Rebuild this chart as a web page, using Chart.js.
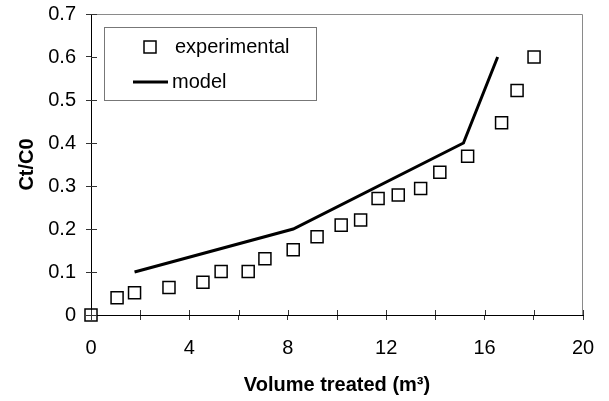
<!DOCTYPE html>
<html>
<head>
<meta charset="utf-8">
<script src="https://cdn.jsdelivr.net/npm/chart.js@4/dist/chart.umd.min.js"></script>
<style>
  html, body { margin: 0; padding: 0; background: #fff; }
  #wrap { width: 609px; height: 401px; }
</style>
</head>
<body>
<div id="wrap"><canvas id="myChart" width="609" height="401"></canvas></div>
<script>
// values
const expX = [0, 1.06, 1.77, 3.17, 4.55, 5.29, 6.39, 7.07, 8.22, 9.19, 10.17, 10.96, 11.67, 12.49, 13.4, 14.18, 15.31, 16.69, 17.32, 18.01];
const expY = [0, 0.040, 0.052, 0.064, 0.076, 0.101, 0.101, 0.131, 0.152, 0.182, 0.209, 0.221, 0.271, 0.279, 0.294, 0.332, 0.369, 0.447, 0.522, 0.600];
const modelX = [1.77, 8.22, 15.14, 16.53];
const modelY = [0.1, 0.2, 0.4, 0.6];
const xTicks = [0, 4, 8, 12, 16, 20];
const yTicks = ['0', '0.1', '0.2', '0.3', '0.4', '0.5', '0.6', '0.7'];

const FONT = 'Liberation Sans, Arial, sans-serif';

// frame on top/right, ticks that cross the axes, and the boxed legend
const extras = {
    id: 'extras',
    afterDraw(chart) {
        const ctx = chart.ctx;
        const a = chart.chartArea;
        const xs = chart.scales.x, ys = chart.scales.y;
        ctx.save();
        ctx.strokeStyle = '#8a8a8a';
        ctx.lineWidth = 1;
        ctx.beginPath();
        ctx.moveTo(a.left, a.top + 0.5);
        ctx.lineTo(a.right - 0.5, a.top + 0.5);
        ctx.lineTo(a.right - 0.5, a.bottom);
        ctx.stroke();

        ctx.strokeStyle = '#333';
        ctx.beginPath();
        xs.ticks.forEach(t => {
            const px = Math.round(xs.getPixelForValue(t.value)) + 0.5;
            ctx.moveTo(px, a.bottom);
            ctx.lineTo(px, a.bottom - 5);
        });
        ys.ticks.forEach(t => {
            const py = Math.round(ys.getPixelForValue(t.value)) + 0.5;
            ctx.moveTo(a.left, py);
            ctx.lineTo(a.left + 6, py);
        });
        ctx.stroke();

        // legend
        const lx = a.left + 13, ly = a.top + 13;
        ctx.strokeStyle = '#777';
        ctx.strokeRect(lx + 0.5, ly + 0.5, 212, 73);
        ctx.fillStyle = '#000';
        ctx.font = '20px ' + FONT;
        ctx.textBaseline = 'middle';
        ctx.textAlign = 'left';
        const ds = chart.data.datasets;
        ctx.strokeStyle = '#000';
        ctx.lineWidth = 1.5;
        ctx.strokeRect(lx + 40, ly + 14, 12, 12);
        ctx.fillText(ds[0].label, lx + 71, ly + 20);
        ctx.lineWidth = 3;
        ctx.beginPath();
        ctx.moveTo(lx + 29, ly + 55);
        ctx.lineTo(lx + 64, ly + 55);
        ctx.stroke();
        ctx.fillText(ds[1].label, lx + 68, ly + 55);
        ctx.restore();
    }
};

const ctx = document.getElementById('myChart').getContext('2d');
const myChart = new Chart(ctx, {
    type: 'scatter',
    data: {
        datasets: [{
            label: 'experimental',
            data: expX.map((x, i) => ({ x: x, y: expY[i] })),
            pointStyle: 'rect',
            pointRadius: 8.5,
            pointBorderWidth: 1.5,
            pointBorderColor: '#000',
            pointBackgroundColor: 'rgba(0,0,0,0)',
            clip: false
        }, {
            label: 'model',
            data: modelX.map((x, i) => ({ x: x, y: modelY[i] })),
            showLine: true,
            borderColor: '#000',
            borderWidth: 3,
            pointRadius: 0,
            clip: false
        }]
    },
    options: {
        responsive: false,
        animation: false,
        layout: { padding: { left: 0, top: 14, right: 26, bottom: 0 } },
        plugins: { legend: { display: false }, tooltip: { enabled: false } },
        scales: {
            x: {
                type: 'linear',
                min: 0, max: 20,
                afterFit: s => { s.height = 86; s.paddingLeft = 0; s.paddingRight = 0; },
                border: { color: '#000', width: 1 },
                grid: { drawOnChartArea: false, tickLength: 5, color: '#333' },
                ticks: {
                    stepSize: 2,
                    padding: 16,
                    color: '#000',
                    font: { family: FONT, size: 20 },
                    callback: v => xTicks.includes(v) ? String(v) : ''
                },
                title: {
                    display: true,
                    text: 'Volume treated (m³)',
                    color: '#000',
                    font: { family: FONT, size: 20, weight: 'bold' },
                    padding: { top: 0, bottom: 4 }
                }
            },
            y: {
                type: 'linear',
                min: 0, max: 0.7,
                afterFit: s => { s.width = 91; s.paddingTop = 0; s.paddingBottom = 0; },
                border: { color: '#000', width: 1 },
                grid: { drawOnChartArea: false, tickLength: 5, color: '#333' },
                ticks: {
                    stepSize: 0.1,
                    padding: 10,
                    color: '#000',
                    font: { family: FONT, size: 20 },
                    callback: (v, i) => yTicks[i]
                },
                title: {
                    display: true,
                    text: 'Ct/C0',
                    color: '#000',
                    font: { family: FONT, size: 20, weight: 'bold' },
                    padding: { top: 15, bottom: 0 }
                }
            }
        }
    },
    plugins: [extras]
});
</script>
</body>
</html>
